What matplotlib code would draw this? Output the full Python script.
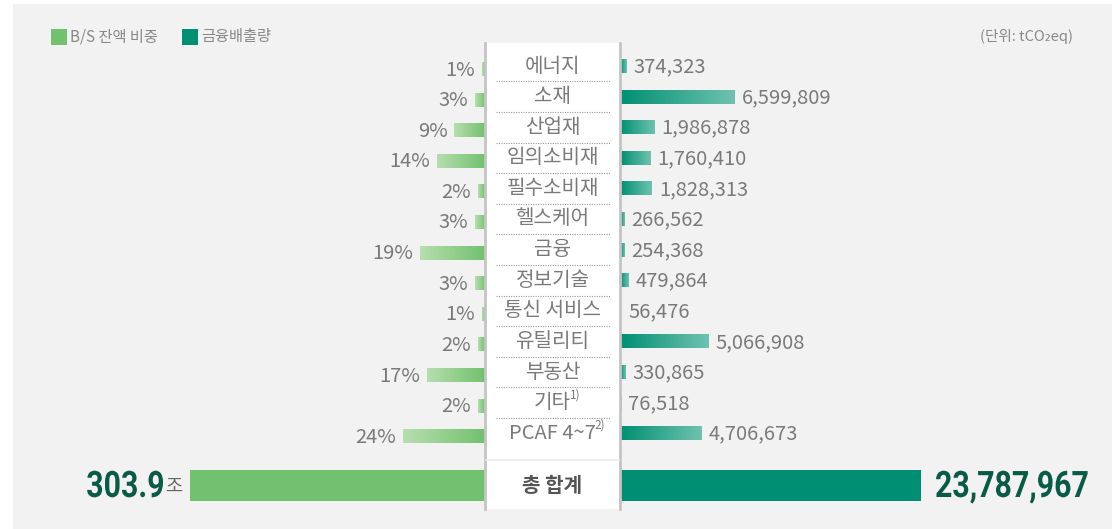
import numpy as np
import matplotlib
matplotlib.use('Agg')
import matplotlib.pyplot as plt
from matplotlib.patches import Rectangle, PathPatch
from matplotlib.colors import LinearSegmentedColormap
from matplotlib.textpath import TextPath
from matplotlib.font_manager import FontProperties
from matplotlib.transforms import Affine2D

plt.rcParams['font.family'] = ['Noto Sans CJK KR', 'DejaVu Sans']

# data
categories = ['에너지', '소재', '산업재', '임의소비재', '필수소비재', '헬스케어', '금융',
              '정보기술', '통신 서비스', '유틸리티', '부동산', '기타', 'PCAF 4~7']
notes = ['', '', '', '', '', '', '', '', '', '', '', '1)', '2)']
bs_share = [1, 3, 9, 14, 2, 3, 19, 3, 1, 2, 17, 2, 24]
emissions = [374323, 6599809, 1986878, 1760410, 1828313, 266562, 254368,
             479864, 56476, 5066908, 330865, 76518, 4706673]
total_bs = '303.9'
total_bs_unit = '조'
total_emission = 23787967

# layout (pixel space)
W, H = 1119, 529
GREEN = '#72c16e'
TEAL = '#008f72'
TXT = '#7a7a7a'
DARK = '#0b5a45'
box_l, box_r = 485, 620
row0, row_step = 66, 30.6
px_pct = 3.4          # px per %
px_mil = 17.4         # px per million tCO2eq
bar_h = 14
fs = 14.5

fig = plt.figure(figsize=(W / 100, H / 100), dpi=100)
fig.patch.set_facecolor('white')
ax = fig.add_axes([0, 0, 1, 1])
ax.axis('off')

ax.add_patch(Rectangle((13, 4), 1099, 530, facecolor='#f2f2f2', edgecolor='none', zorder=0))

cm_left = LinearSegmentedColormap.from_list('l', ['#b7deaf', GREEN])
cm_right = LinearSegmentedColormap.from_list('r', [TEAL, '#6fc2af'])
grad = np.linspace(0, 1, 256).reshape(1, -1)


def grad_bar(y, left, width, cmap):
    bar = ax.barh(y, width, left=left, height=bar_h, color='none', zorder=2)[0]
    x0, x1 = sorted([left, left + width])
    im = ax.imshow(grad, extent=[x0, x1, y + bar_h / 2, y - bar_h / 2], cmap=cmap,
                   aspect='auto', zorder=2, interpolation='bilinear')
    im.set_clip_path(bar)


def big_number(s, x, y_base, align, sx=0.83, em=36.5):
    # condensed bold number drawn as a path (y axis is inverted)
    tp = TextPath((0, 0), s, size=em, prop=FontProperties(family='Roboto', weight='bold'))
    ext = tp.get_extents()
    w = ext.x1 * sx
    x0 = x - w if align == 'right' else x
    tr = Affine2D().scale(sx, -1).translate(x0, y_base) + ax.transData
    ax.add_patch(PathPatch(tp, transform=tr, facecolor=DARK, edgecolor='none', zorder=5))


ys = row0 + row_step * np.arange(len(categories))

for i, (cat, note, p, e) in enumerate(zip(categories, notes, bs_share, emissions)):
    yl = ys[i] + 3
    wl = p * px_pct
    grad_bar(yl, box_l, -wl, cm_left)
    ax.text(box_l - wl - 7, yl + 1, f'{p}%', ha='right', va='center', fontsize=fs,
            color=TXT, zorder=5)
    wr = e / 1e6 * px_mil
    if wr >= 1:
        grad_bar(ys[i], box_r, wr, cm_right)
    ax.text(box_r + max(wr, 0) + 7, ys[i] + 1, f'{e:,}', ha='left', va='center',
            fontsize=fs, color=TXT, zorder=5)

# center box
ax.add_patch(Rectangle((box_l, 43), box_r - box_l, 466, facecolor='white',
                       edgecolor='none', zorder=3))
for xb in (box_l, box_r):
    ax.plot([xb, xb], [43, 509], color='#c4c4c4', lw=2, zorder=4)
for i, (cat, note) in enumerate(zip(categories, notes)):
    t = ax.text((box_l + box_r) / 2, ys[i], cat, ha='center', va='center',
                fontsize=fs, color=TXT, zorder=5)
    if note:
        fig.canvas.draw()
        bb = t.get_window_extent()
        ax.text(bb.x1 + 1, ys[i] - 8, note, ha='left', va='center', fontsize=8.5,
                color=TXT, zorder=5)
    if i < len(categories) - 1:
        ax.plot([496, 610], [ys[i] + row_step / 2] * 2, color='#9a9a9a', lw=0.8,
                ls=(0, (1, 1.2)), zorder=4)
ax.plot([box_l + 1, box_r - 1], [460, 460], color='#ececec', lw=1.2, zorder=4)

# totals
y_tot = 485
full_w = 295
ax.barh(y_tot, -full_w, left=box_l, height=31, color=GREEN, zorder=2)
ax.barh(y_tot, full_w + 6, left=box_r, height=31, color=TEAL, zorder=2)
ax.text((box_l + box_r) / 2, y_tot, '총 합계', ha='center', va='center', fontsize=14.5,
        fontweight='bold', color='#555555', zorder=5)
ax.text(182, y_tot + 1, total_bs_unit, ha='right', va='center', fontsize=13.5,
        color='#666666', zorder=5)
big_number(total_bs, 163, 497, 'right')
big_number(f'{total_emission:,}', 935, 497, 'left')

# legend + unit
ax.add_patch(Rectangle((51, 29), 16, 16, facecolor=GREEN, edgecolor='none', zorder=5))
ax.text(70, 37, 'B/S 잔액 비중', ha='left', va='center', fontsize=11, color='#888888')
ax.add_patch(Rectangle((182, 29), 16, 16, facecolor=TEAL, edgecolor='none', zorder=5))
ax.text(201, 37, '금융배출량', ha='left', va='center', fontsize=11, color='#888888')
ax.text(1073, 37, '(단위: tCO₂eq)', ha='right', va='center', fontsize=10.5, color='#888888')

ax.set_xlim(0, W)
ax.set_ylim(H, 0)
fig.savefig('out.png', dpi=100, facecolor=fig.get_facecolor())
